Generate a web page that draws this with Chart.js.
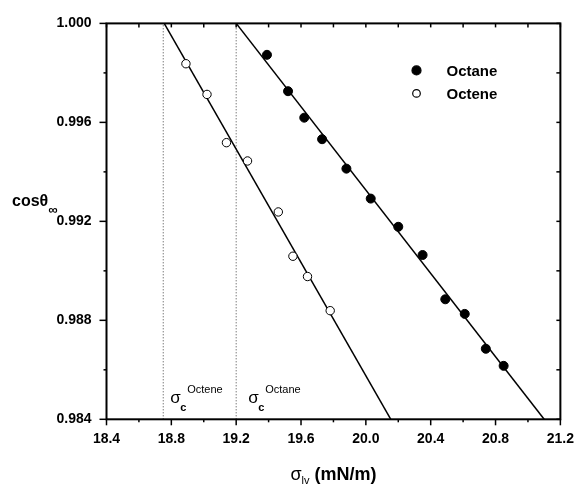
<!DOCTYPE html>
<html>
<head>
<meta charset="utf-8">
<script src="https://cdn.jsdelivr.net/npm/chart.js@4.4.0/dist/chart.umd.min.js"></script>
<style>
html, body { margin: 0; padding: 0; background: #fff; }
</style>
</head>
<body>
<canvas id="graph" width="585" height="489"></canvas>
<script>
const octaneX = [19.39, 19.52, 19.62, 19.73, 19.88, 20.03, 20.20, 20.35, 20.49, 20.61, 20.74, 20.85];
const octaneY = [0.99873, 0.99726, 0.99619, 0.99532, 0.99413, 0.99292, 0.99178, 0.99064, 0.98885, 0.98826, 0.98685, 0.98616];
const octeneX = [18.89, 19.02, 19.14, 19.27, 19.46, 19.55, 19.64, 19.78];
const octeneY = [0.99837, 0.99713, 0.99518, 0.99444, 0.99238, 0.99059, 0.98977, 0.98839];

// fitted lines (end points on the frame)
const octaneFitX = [19.20, 21.10];
const octeneFitX = [18.756, 20.154];
const fitY = [1.000, 0.984];

// critical surface tension markers
const sigmaC = [18.75, 19.20];
const sigmaCNames = ['Octene', 'Octane'];

const xMin = 18.4, xMax = 21.2, xStep = 0.2;
const yMin = 0.984, yMax = 1.000, yStep = 0.002;

const FONT = "'Liberation Sans', Arial, sans-serif";

function pts(xs, ys) {
    return xs.map((v, i) => ({ x: v, y: ys[i] }));
}

const ctx = document.getElementById('graph').getContext('2d');

// frame, ticks (out on bottom/left, in on top/right), legend, labels
const decor = {
    id: 'decor',
    afterDatasetsDraw(chart) {
        const c = chart.ctx;
        const a = chart.chartArea;
        const x = chart.scales.x, y = chart.scales.y;
        c.save();
        c.strokeStyle = '#000';
        c.lineWidth = 1.5;
        function seg(x1, y1, x2, y2) {
            c.beginPath(); c.moveTo(x1, y1); c.lineTo(x2, y2); c.stroke();
        }
        x.ticks.forEach((t, i) => {
            const px = x.getPixelForValue(t.value);
            const len = i % 2 === 0 ? 6 : 3;
            seg(px, a.bottom, px, a.bottom + len);
            seg(px, a.top, px, a.top + 4);
        });
        y.ticks.forEach((t, i) => {
            const py = y.getPixelForValue(t.value);
            const len = i % 2 === 0 ? 7 : 3;
            seg(a.left - len, py, a.left, py);
            seg(a.right - 4, py, a.right, py);
        });
        c.lineWidth = 2;
        c.strokeRect(a.left, a.top, a.right - a.left, a.bottom - a.top);

        // legend
        const lx = a.left + 310, ly = a.top + 47;
        chart.data.datasets.slice(0, 2).forEach((ds, i) => {
            const cy = ly + i * 23;
            c.beginPath();
            c.arc(lx, cy, i === 0 ? 4.5 : 3.8, 0, Math.PI * 2);
            c.fillStyle = ds.pointBackgroundColor;
            c.fill();
            c.lineWidth = 1.2;
            c.strokeStyle = '#000';
            c.stroke();
            c.fillStyle = '#000';
            c.font = 'bold 15px ' + FONT;
            c.textBaseline = 'middle';
            c.textAlign = 'left';
            c.fillText(ds.label, lx + 30, cy + 1);
        });

        // sigma_c annotations
        const offs = [7, 12];
        c.textBaseline = 'alphabetic';
        sigmaC.forEach((v, i) => {
            const px = x.getPixelForValue(v) + offs[i];
            c.font = '17px ' + FONT;
            c.fillText('σ', px, a.bottom - 16);
            c.font = 'bold 11px ' + FONT;
            c.fillText('c', px + 10, a.bottom - 8);
            c.font = '11px ' + FONT;
            c.fillText(sigmaCNames[i], px + 17, a.bottom - 26);
        });

        // y title
        c.font = 'bold 16px ' + FONT;
        c.fillText('cosθ', 12, 206);
        const w = c.measureText('cosθ').width;
        c.font = 'bold 13px ' + FONT;
        c.fillText('∞', 12 + w, 214);

        // x title
        const cx = (a.left + a.right) / 2;
        c.font = '18px ' + FONT;
        const ws = c.measureText('σ').width;
        c.font = '11px ' + FONT;
        const wl = c.measureText('lv').width;
        c.font = 'bold 18px ' + FONT;
        const wu = c.measureText(' (mN/m)').width;
        let sx = cx - (ws + wl + wu) / 2;
        c.font = '18px ' + FONT;
        c.fillText('σ', sx, 480);
        c.font = '11px ' + FONT;
        c.fillText('lv', sx + ws, 484);
        c.font = 'bold 18px ' + FONT;
        c.fillText(' (mN/m)', sx + ws + wl, 480);
        c.restore();
    }
};

const chart = new Chart(ctx, {
    type: 'scatter',
    data: {
        datasets: [{
            label: 'Octane',
            data: pts(octaneX, octaneY),
            pointRadius: 4.5,
            pointBackgroundColor: '#000',
            pointBorderColor: '#000',
            pointBorderWidth: 1,
            order: 0
        }, {
            label: 'Octene',
            data: pts(octeneX, octeneY),
            pointRadius: 4.2,
            pointBackgroundColor: '#fff',
            pointBorderColor: '#000',
            pointBorderWidth: 1,
            order: 0
        }, {
            label: 'Octane fit',
            data: pts(octaneFitX, fitY),
            showLine: true,
            pointRadius: 0,
            borderColor: '#000',
            borderWidth: 1.5,
            order: 1
        }, {
            label: 'Octene fit',
            data: pts(octeneFitX, fitY),
            showLine: true,
            pointRadius: 0,
            borderColor: '#000',
            borderWidth: 1.5,
            order: 1
        }, {
            label: 'sc octene',
            data: [{ x: sigmaC[0], y: yMin }, { x: sigmaC[0], y: yMax }],
            showLine: true,
            pointRadius: 0,
            borderColor: '#444',
            borderWidth: 1,
            borderDash: [1, 2],
            order: 2
        }, {
            label: 'sc octane',
            data: [{ x: sigmaC[1], y: yMin }, { x: sigmaC[1], y: yMax }],
            showLine: true,
            pointRadius: 0,
            borderColor: '#444',
            borderWidth: 1,
            borderDash: [1, 2],
            order: 2
        }]
    },
    options: {
        responsive: false,
        animation: false,
        devicePixelRatio: 1,
        layout: { padding: { top: 13.5, right: 14, left: 0, bottom: 0 } },
        plugins: {
            legend: { display: false },
            tooltip: { enabled: false }
        },
        scales: {
            x: {
                type: 'linear',
                min: xMin,
                max: xMax,
                afterFit: s => { s.height = 69.7; },
                grid: { display: false, drawTicks: false },
                border: { display: false },
                ticks: {
                    stepSize: xStep,
                    padding: 11,
                    color: '#000',
                    font: { family: FONT, size: 14, weight: 'bold' },
                    autoSkip: false,
                    maxRotation: 0,
                    callback: (v, i) => i % 2 === 0 ? v.toFixed(1) : ''
                }
            },
            y: {
                type: 'linear',
                min: yMin,
                max: yMax,
                afterFit: s => { s.width = 106.5; },
                grid: { display: false, drawTicks: false },
                border: { display: false },
                ticks: {
                    stepSize: yStep,
                    padding: 15,
                    color: '#000',
                    font: { family: FONT, size: 14, weight: 'bold' },
                    autoSkip: false,
                    callback: (v, i) => i % 2 === 0 ? v.toFixed(3) : ''
                }
            }
        }
    },
    plugins: [decor]
});
</script>
</body>
</html>
